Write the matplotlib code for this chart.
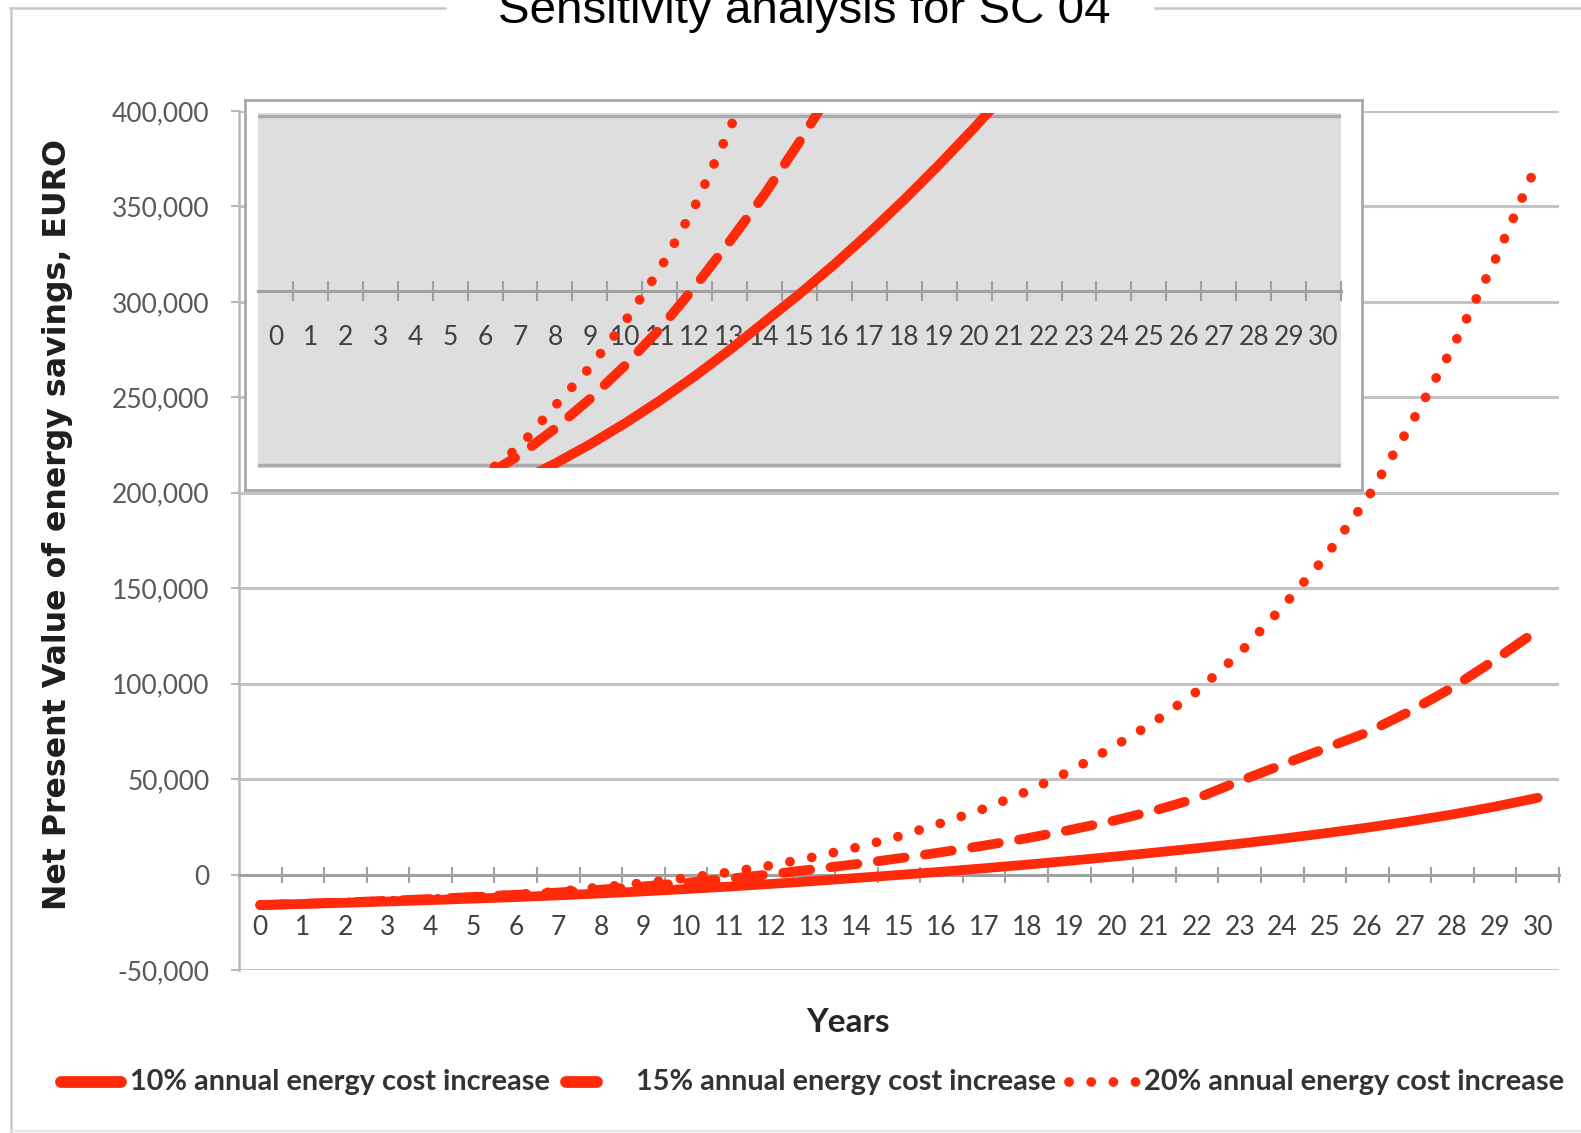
import numpy as np
import matplotlib.pyplot as plt
from matplotlib.lines import Line2D

# data
years = list(range(31))
npv_10 = [-16000, -15400, -14800, -14100, -13400, -12600, -11800, -10900, -9900, -8800,
          -7600, -6300, -4900, -3400, -1800, -200, 1500, 3300, 5200, 7200,
          9300, 11500, 13800, 16200, 18800, 21600, 24600, 27900, 31500, 35600, 40200]
npv_15 = [-16000, -15300, -14600, -13700, -12800, -11700, -10600, -9400, -7900, -6200,
          -4300, -2200, 200, 2800, 5500, 8500, 11700, 15200, 19000, 23300,
          28000, 33500, 40000, 49000, 57500, 66000, 74500, 85500, 98000, 112500, 128000]
npv_20 = [-16000, -15300, -14600, -13800, -12900, -11800, -10500, -8900, -6600, -4400,
          -1800, 1200, 4800, 9200, 14200, 20000, 27000, 34500, 43500, 54000,
          66500, 80000, 96000, 116000, 140000, 166000, 197000, 235000, 276000, 322000, 373000]
series_labels = ['10% annual energy cost increase',
                 '15% annual energy cost increase',
                 '20% annual energy cost increase']
y_ticks = [-50000, 0, 50000, 100000, 150000, 200000, 250000, 300000, 350000, 400000]
inset_lim = 10000

RED = '#ff2a0a'
W, H = 1581, 1133
LW = 7

styles = [
    dict(linestyle='-', solid_capstyle='round'),
    dict(linestyle=(0, (2.8, 2.1)), dash_capstyle='round'),
    dict(linestyle=(0, (0.01, 2.27)), dash_capstyle='round'),
]


def fx(px):
    return px / W


def fy(py):
    return 1 - py / H


fig = plt.figure(figsize=(W / 100, H / 100), dpi=100)

# 主图
ax = fig.add_axes([fx(239), fy(970), (1559 - 239) / W, (970 - 111) / H])
ax.set_xlim(-0.5, 30.5)
ax.set_ylim(-50000, 400000)
ax.set_yticks(y_ticks)
ax.set_yticklabels([f'{v:,}' for v in y_ticks], family='Lato')
ax.grid(axis='y', color='#c4c4c4', lw=2.2)
ax.set_axisbelow(True)
for s in ['top', 'right']:
    ax.spines[s].set_visible(False)
ax.spines['left'].set_color('#b8b8b8')
ax.spines['left'].set_linewidth(1.8)
ax.spines['bottom'].set_position(('data', 0))
ax.spines['bottom'].set_color('#a0a0a0')
ax.spines['bottom'].set_linewidth(2.2)
ax.tick_params(axis='y', length=5.8, width=1.5, color='#b8b8b8', pad=15.5,
               labelsize=19, labelcolor='#595959')
ax.set_xticks(years)
ax.set_xticklabels([str(y) for y in years], family='Lato')
ax.set_xticks(np.arange(0.5, 31, 1), minor=True)
ax.tick_params(axis='x', which='major', length=0, pad=29, labelsize=19, labelcolor='#404040')
ax.tick_params(axis='x', which='minor', length=11.5, width=1.5, direction='inout', color='#a0a0a0')

for vals, st in zip([npv_10, npv_15, npv_20], styles):
    ax.plot(years, vals, color=RED, lw=LW, zorder=3, **st)

# 白色框 + 灰色放大图
box = fig.add_axes([fx(245), fy(490), (1362 - 245) / W, (490 - 100) / H])
box.set_xticks([])
box.set_yticks([])
box.set_facecolor('white')
for s in box.spines.values():
    s.set_color('#a8a8a8')
    s.set_linewidth(2)

ins = fig.add_axes([fx(258), fy(468), (1341 - 258) / W, (468 - 113) / H])
ins.set_facecolor('#dedede')
ins.set_xlim(-0.5, 30.5)
ins.set_ylim(-inset_lim * 1.015, inset_lim * 1.015)
ins.set_yticks([-inset_lim, inset_lim])
ins.set_yticklabels([])
ins.tick_params(axis='y', length=0)
ins.grid(axis='y', color='#ababab', lw=2.5)
ins.set_axisbelow(True)
for s in ['top', 'right', 'left']:
    ins.spines[s].set_visible(False)
ins.spines['bottom'].set_position(('data', 0))
ins.spines['bottom'].set_color('#a0a0a0')
ins.spines['bottom'].set_linewidth(2.2)
ins.set_xticks(years)
ins.set_xticklabels([str(y) for y in years], family='Lato')
ins.set_xticks(np.arange(0.5, 31, 1), minor=True)
ins.tick_params(axis='x', which='major', length=0, pad=25, labelsize=19, labelcolor='#404040')
ins.tick_params(axis='x', which='minor', length=14, width=1.5, direction='inout', color='#a0a0a0')
for vals, st in zip([npv_10, npv_15, npv_20], styles):
    ins.plot(years, vals, color=RED, lw=LW, zorder=3, **st)

# 标题和轴标签
fig.text(fx(804), fy(23), 'Sensitivity analysis for SC 04', ha='center', va='baseline',
         fontsize=34.2, family='Liberation Sans', color='black')
fig.text(fx(58), fy(524), 'Net Present Value of energy savings, EURO', rotation=90,
         ha='center', va='center', fontsize=22.8, fontweight='bold', family='DejaVu Sans',
         color='#1e1e1e')
fig.text(fx(848), fy(1023), 'Years', ha='center', va='center', fontsize=24,
         fontweight='bold', family='Lato', color='#262626')

# 图例（手动）
ly = fy(1082)
handles = [
    ([61, 121], styles[0]),
    ([566, 597], dict(linestyle='-', solid_capstyle='round')),
    ([1069, 1136], styles[2]),
]
text_x = [130, 636, 1144]
for (xs, st), tx, lab in zip(handles, text_x, series_labels):
    lw = 8.5 if st is not styles[2] else LW
    fig.add_artist(Line2D([fx(xs[0]), fx(xs[1])], [ly, ly], transform=fig.transFigure,
                          color=RED, lw=lw, **st))
    fig.text(fx(tx), ly, lab, ha='left', va='center', fontsize=20.8, fontweight='bold',
             family='Lato', color='#333333')

# 外框
frame = dict(transform=fig.transFigure, color='#c8c8c8', lw=1.8)
fig.add_artist(Line2D([fx(10), fx(445)], [fy(8), fy(8)], **frame))
fig.add_artist(Line2D([fx(1155), fx(1581)], [fy(8), fy(8)], **frame))
fig.add_artist(Line2D([fx(11), fx(11)], [fy(8), fy(1133)], **frame))
fig.add_artist(Line2D([fx(11), fx(1581)], [fy(1131), fy(1131)], color='#e6e6e6', lw=1.5,
                      transform=fig.transFigure))

fig.savefig('out.png', dpi=100)
